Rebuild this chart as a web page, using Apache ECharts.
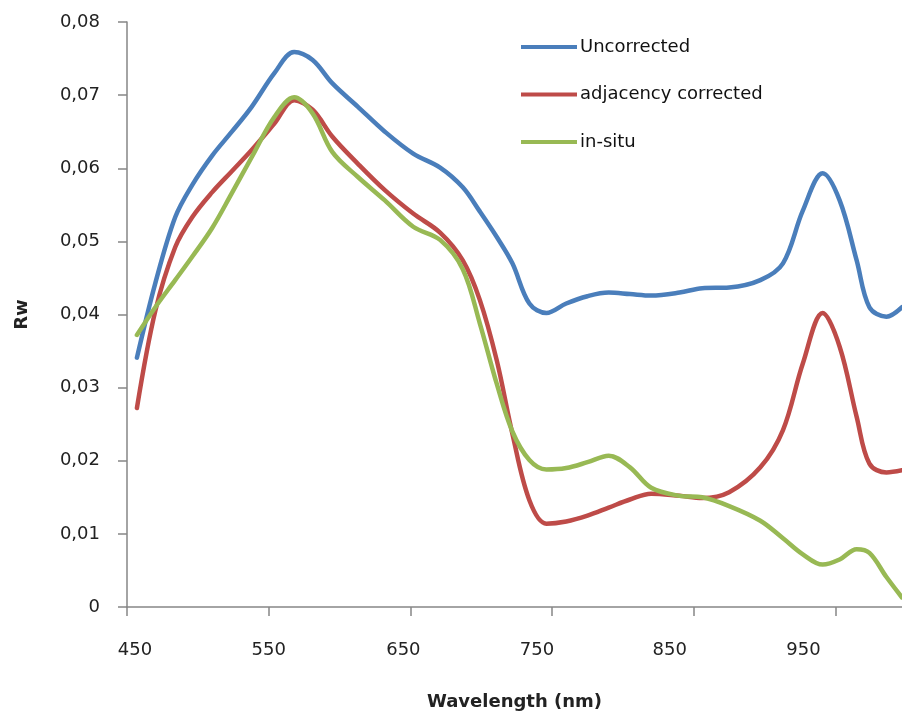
<!DOCTYPE html>
<html>
<head>
<meta charset="utf-8">
<title>Rw spectra</title>
<script src="https://cdn.jsdelivr.net/npm/echarts@6/dist/echarts.min.js"></script>
<style>
  html, body { margin: 0; padding: 0; background: #fff; }
  #chart { width: 902px; height: 716px; }
</style>
</head>
<body>
<div id="chart"></div>
<script>
// wavelength samples (nm), shared by all three spectra
const wavelengths = [457, 470, 484, 496, 510, 524, 538, 554, 568, 581, 595, 613, 632, 652, 671, 687,
    699, 711, 722, 734, 746, 760, 775, 790, 805, 820, 840, 856, 875, 897, 913, 927, 941, 953, 965,
    974, 986, 997];

const uncorrected = [0.0341, 0.0443, 0.0533, 0.0577, 0.0617, 0.0650, 0.0684, 0.0730, 0.0759, 0.0748,
    0.0716, 0.0684, 0.0650, 0.0620, 0.0601, 0.0574, 0.0541, 0.0506, 0.0470, 0.0415, 0.0402, 0.0415,
    0.0425, 0.0430, 0.0428, 0.0426, 0.0430, 0.0436, 0.0437, 0.0447, 0.0470, 0.0542, 0.0593, 0.0556,
    0.0474, 0.0410, 0.0397, 0.0410];

const adjacencyCorrected = [0.0272, 0.0405, 0.0492, 0.0533, 0.0567, 0.0596, 0.0625, 0.0661, 0.0693,
    0.0680, 0.0643, 0.0606, 0.0570, 0.0538, 0.0512, 0.0474, 0.0420, 0.0337, 0.0237, 0.0146, 0.0114,
    0.0117, 0.0125, 0.0136, 0.0147, 0.0155, 0.0152, 0.0149, 0.0157, 0.0191, 0.0242, 0.0333, 0.0402,
    0.0356, 0.0260, 0.0196, 0.0184, 0.0187];

const inSitu = [0.0372, 0.0410, 0.0447, 0.0479, 0.0518, 0.0566, 0.0615, 0.0670, 0.0697, 0.0675,
    0.0622, 0.0588, 0.0556, 0.0520, 0.0502, 0.0462, 0.0388, 0.0305, 0.0240, 0.0201, 0.0188, 0.0190,
    0.0198, 0.0207, 0.0191, 0.0163, 0.0152, 0.0150, 0.0138, 0.0118, 0.0094, 0.0072, 0.0058, 0.0065,
    0.0079, 0.0074, 0.0041, 0.0013];

const seriesNames = ['Uncorrected', 'adjacency corrected', 'in-situ'];
const seriesColors = ['#4a7ebb', '#be4b48', '#98b954'];
const xTickValues = [450, 550, 650, 750, 850, 950];

const FONT = 'DejaVu Sans';
const AXIS_GREY = '#868686';

// In the original the tick labels drift left of their ticks; nudge each label
// with rich-text padding (px of padding on one side moves the text half that).
const labelNudge = { 450: [0, 0, 0, 16], 550: [0, 0, 0, 0], 650: [0, 14, 0, 0],
    750: [0, 30, 0, 0], 850: [0, 48, 0, 0], 950: [0, 64, 0, 0] };

const richLabels = {};
Object.keys(labelNudge).forEach(k => {
    richLabels['t' + k] = { fontFamily: FONT, fontSize: 18, color: '#222', padding: labelNudge[k] };
});

function pairs(values) {
    return wavelengths.map((w, i) => [w, values[i]]);
}

function lineSeries(name, values, color) {
    return {
        name: name,
        type: 'line',
        data: pairs(values),
        smooth: 0.35,
        showSymbol: false,
        color: color,
        lineStyle: { width: 4.5, color: color, cap: 'round', join: 'round' }
    };
}

const chart = echarts.init(document.getElementById('chart'), null, { renderer: 'canvas' });

chart.setOption({
    animation: false,
    backgroundColor: '#fff',
    textStyle: { fontFamily: FONT },
    grid: { left: 127, right: 0, top: 22, bottom: 109 },
    legend: {
        orient: 'vertical',
        left: 516,
        top: 33,
        itemGap: 29.5,
        itemWidth: 56,
        itemHeight: 4,
        icon: 'rect',
        data: seriesNames,
        textStyle: { fontFamily: FONT, fontSize: 18, color: '#111', padding: [0, 0, 0, -2] }
    },
    xAxis: {
        type: 'value',
        min: 450,
        max: 997,
        name: 'Wavelength (nm)',
        nameLocation: 'middle',
        nameGap: 86,
        nameTextStyle: { fontFamily: FONT, fontSize: 18, fontWeight: 'bold', color: '#222' },
        axisLine: { show: true, onZero: false, lineStyle: { color: AXIS_GREY, width: 1.5 } },
        axisTick: { show: true, length: 9, customValues: xTickValues, lineStyle: { color: AXIS_GREY, width: 1.5 } },
        axisLabel: {
            customValues: xTickValues,
            margin: 34,
            formatter: v => '{t' + v + '|' + v + '}',
            rich: richLabels
        },
        splitLine: { show: false }
    },
    yAxis: {
        type: 'value',
        min: 0,
        max: 0.08,
        interval: 0.01,
        name: 'Rw',
        nameLocation: 'middle',
        nameGap: 96,
        nameTextStyle: { fontFamily: FONT, fontSize: 18, fontWeight: 'bold', color: '#222' },
        axisLine: { show: true, lineStyle: { color: AXIS_GREY, width: 1.5 } },
        axisTick: { show: true, length: 9, lineStyle: { color: AXIS_GREY, width: 1.5 } },
        splitLine: { show: false },
        axisLabel: {
            margin: 27,
            fontFamily: FONT,
            fontSize: 18,
            color: '#222',
            formatter: v => (v === 0 ? '0' : v.toFixed(2).replace('.', ','))
        }
    },
    series: [
        lineSeries(seriesNames[0], uncorrected, seriesColors[0]),
        lineSeries(seriesNames[1], adjacencyCorrected, seriesColors[1]),
        lineSeries(seriesNames[2], inSitu, seriesColors[2])
    ]
});
</script>
</body>
</html>
